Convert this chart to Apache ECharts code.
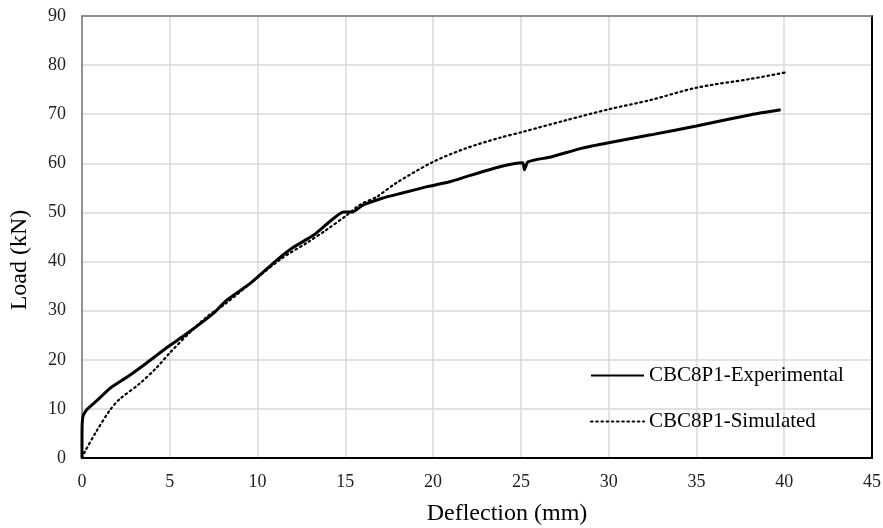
<!DOCTYPE html>
<html>
<head>
<meta charset="utf-8">
<script src="https://cdn.jsdelivr.net/npm/echarts@6/dist/echarts.min.js"></script>
<style>html,body{margin:0;padding:0;background:#fff;}#c{width:883px;height:528px;}</style>
</head>
<body>
<div id="c"></div>
<script>
const seriesNames = ['CBC8P1-Experimental', 'CBC8P1-Simulated'];
const expX = [0, 0, 0.05, 0.2, 0.44, 1.0, 1.6, 2.7, 3.7, 4.8, 6.0, 7.5, 8.2, 9.6, 11.1, 12.0, 13.2, 14.1, 14.9, 15.4, 16.0, 17.1, 18.3, 19.6, 20.0, 21.0, 21.9, 23.8, 25.1, 25.2, 25.4, 26.7, 28.5, 30.0, 32.4, 35.0, 38.1, 39.8];
const expY = [0, 5, 8.4, 9.5, 10.4, 12.2, 14.2, 16.8, 19.4, 22.4, 25.4, 29.5, 32.0, 35.6, 40.3, 42.8, 45.4, 48.1, 50.1, 50.1, 51.5, 52.9, 54.0, 55.2, 55.5, 56.3, 57.3, 59.3, 60.1, 58.7, 60.3, 61.3, 63.1, 64.2, 65.8, 67.6, 69.9, 70.9];
const simX = [0, 0.15, 0.8, 1.6, 2.15, 3.3, 4.25, 5.0, 6.1, 7.1, 8.2, 9.95, 11.4, 12.8, 13.9, 15.1, 15.8, 16.8, 17.9, 20.0, 21.9, 23.8, 25.1, 27.6, 30.0, 32.4, 35.0, 38.1, 40.2];
const simY = [0, 1.2, 5.3, 9.8, 12.0, 15.2, 18.4, 21.4, 25.4, 28.7, 31.5, 36.6, 40.7, 43.8, 46.4, 49.5, 51.5, 53.2, 56.0, 60.3, 63.1, 65.2, 66.4, 68.8, 71.0, 72.9, 75.4, 77.2, 78.6];
const xTitle = 'Deflection (mm)';
const yTitle = 'Load (kN)';

const font = 'Liberation Serif';
const chart = echarts.init(document.getElementById('c'), null, {renderer: 'canvas'});
const zip = (a, b) => a.map((v, i) => [v, b[i]]);
const gridLineColor = '#d9d9d9';
chart.setOption({
  animation: false,
  backgroundColor: '#fff',
  grid: {left: 82, right: 11, top: 16, bottom: 70, containLabel: false, outerBoundsMode: 'none'},
  legend: {
    orient: 'vertical', left: 590, top: 365, padding: 0,
    itemWidth: 53, itemHeight: 22, itemGap: 25,
    itemStyle: {opacity: 0},
    textStyle: {fontFamily: font, fontSize: 21, color: '#000'},
    data: seriesNames
  },
  xAxis: [{
    type: 'value', min: 0, max: 45, interval: 5, position: 'bottom',
    name: xTitle, nameLocation: 'middle', nameGap: 44,
    nameTextStyle: {fontFamily: font, fontSize: 24, color: '#000', padding: [0, 0, 0, 60]},
    axisLine: {show: true, onZero: false, lineStyle: {color: '#000', width: 2}},
    axisTick: {show: false},
    axisLabel: {fontFamily: font, fontSize: 18, color: '#222', margin: 15},
    splitLine: {show: true, lineStyle: {color: gridLineColor, width: 1.5}}
  }, {
    type: 'value', min: 0, max: 45, interval: 5, position: 'top',
    axisLine: {show: true, onZero: false, lineStyle: {color: '#777', width: 1.5}},
    axisTick: {show: false}, axisLabel: {show: false}, splitLine: {show: false}
  }],
  yAxis: [{
    type: 'value', min: 0, max: 90, interval: 10, position: 'left',
    name: yTitle, nameLocation: 'middle', nameGap: 50,
    nameTextStyle: {fontFamily: font, fontSize: 24, color: '#000', padding: [0, 46, 0, 0]},
    axisLine: {show: true, onZero: false, lineStyle: {color: '#777', width: 1.5}},
    axisTick: {show: false},
    axisLabel: {fontFamily: font, fontSize: 18, color: '#222', margin: 16},
    splitLine: {show: true, lineStyle: {color: gridLineColor, width: 1.5}}
  }, {
    type: 'value', min: 0, max: 90, interval: 10, position: 'right',
    axisLine: {show: true, onZero: false, lineStyle: {color: '#000', width: 2}},
    axisTick: {show: false}, axisLabel: {show: false}, splitLine: {show: false}
  }],
  series: [{
    name: seriesNames[0], type: 'line', data: zip(expX, expY),
    showSymbol: false, symbol: 'none', smooth: 0.2,
    lineStyle: {color: '#000', width: 3}, itemStyle: {color: '#000'}, z: 3
  }, {
    name: seriesNames[1], type: 'line', data: zip(simX, simY),
    showSymbol: false, symbol: 'none', smooth: 0.3,
    lineStyle: {color: '#000', width: 2.2, type: [1.6, 3.6], cap: 'round'}, itemStyle: {color: '#000'}, z: 2
  }]
});
</script>
</body>
</html>
